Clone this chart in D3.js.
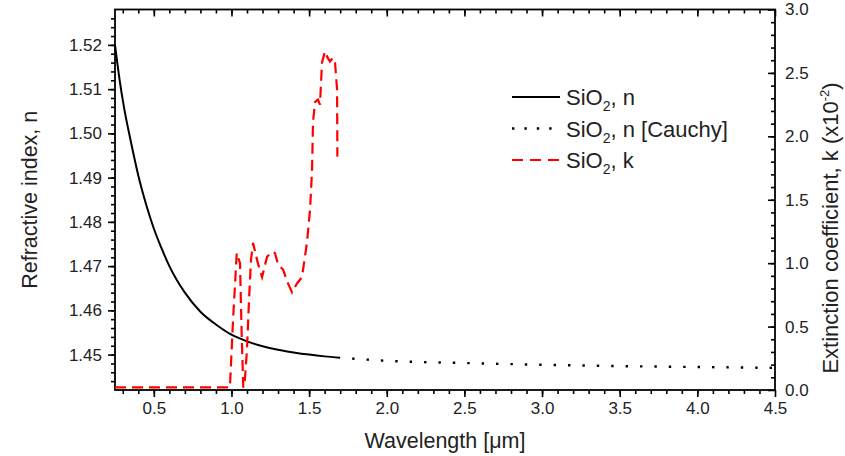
<!DOCTYPE html>
<html>
<head>
<meta charset="utf-8">
<script src="https://cdn.jsdelivr.net/npm/d3@7"></script>
<style>
  body { margin: 0; background: #fff; }
  svg { font-family: "Liberation Sans", Arial, sans-serif; }
  .axis path { stroke: #000; stroke-width: 1.6; }
  .axis line { stroke: #000; stroke-width: 1.6; }
  .axis text { font-size: 17px; fill: #222; }
</style>
</head>
<body>
<div id="chart"></div>
<script>
// refractive index n (solid, measured)
const nWave = [0.25, 0.28, 0.31, 0.35, 0.40, 0.45, 0.50, 0.55, 0.60, 0.70, 0.80, 0.90, 1.00, 1.10, 1.20, 1.30, 1.40, 1.50, 1.60, 1.70];
const nVals = [1.5200, 1.5120, 1.5055, 1.4985, 1.4905, 1.4840, 1.4785, 1.4740, 1.4700, 1.4640, 1.4597, 1.4568, 1.4545, 1.4530, 1.4519, 1.4511, 1.4505, 1.4500, 1.4496, 1.4493];

// Cauchy extension (dotted)
const cWave = [1.70, 2.00, 2.50, 3.00, 3.50, 4.00, 4.50];
const cVals = [1.4493, 1.4486, 1.4481, 1.4477, 1.4474, 1.4472, 1.4470];

// extinction coefficient k (x10^-2), dashed red
const kWave = [0.25, 0.60, 0.978, 0.99, 1.01, 1.034, 1.055, 1.065, 1.076, 1.084, 1.10, 1.113, 1.126, 1.139, 1.17, 1.197, 1.229, 1.261, 1.28, 1.30, 1.332, 1.364, 1.39, 1.422, 1.454, 1.486, 1.506, 1.519, 1.525, 1.538, 1.557, 1.57, 1.583, 1.602, 1.615, 1.634, 1.654, 1.667, 1.68, 1.682];
const kVals = [0.02, 0.02, 0.02, 0.02, 0.55, 1.08, 1.00, 0.47, 0.02, 0.04, 0.32, 0.71, 1.03, 1.16, 1.00, 0.89, 1.05, 1.09, 1.08, 0.99, 0.95, 0.84, 0.77, 0.84, 0.89, 1.16, 1.42, 1.74, 2.11, 2.27, 2.29, 2.25, 2.58, 2.67, 2.63, 2.59, 2.62, 2.58, 2.37, 1.84];

const xTicks = [0.5, 1.0, 1.5, 2.0, 2.5, 3.0, 3.5, 4.0, 4.5];
const nTicks = [1.45, 1.46, 1.47, 1.48, 1.49, 1.50, 1.51, 1.52];
const kTicks = [0.0, 0.5, 1.0, 1.5, 2.0, 2.5, 3.0];

const legendLabels = [["SiO", "2", ", n"], ["SiO", "2", ", n [Cauchy]"], ["SiO", "2", ", k"]];

const width = 845, height = 456;
const margin = { top: 9.5, right: 70, bottom: 66, left: 115 };
const x0 = margin.left, x1 = width - margin.right;
const y0 = margin.top, y1 = height - margin.bottom;

const xScale = d3.scaleLinear().domain([0.25, 4.5]).range([x0, x1]);
const yN = d3.scaleLinear().domain([1.442, 1.528]).range([y1, y0]);
const yK = d3.scaleLinear().domain([0, 3.0]).range([y1, y0]);

const svg = d3.select("#chart").append("svg")
    .attr("width", width)
    .attr("height", height);

function range(a, b, s) {
    const out = [];
    for (let v = a; v <= b + s / 2; v += s) out.push(+v.toFixed(4));
    return out;
}

// minor ticks
svg.append("g").attr("class", "axis").attr("transform", `translate(0,${y1})`)
    .call(d3.axisBottom(xScale).tickValues(range(0.3, 4.4, 0.1)).tickSize(4).tickFormat(""))
    .select(".domain").remove();
svg.append("g").attr("class", "axis").attr("transform", `translate(0,${y0})`)
    .call(d3.axisTop(xScale).tickValues(range(0.3, 4.4, 0.1)).tickSize(-4).tickFormat(""))
    .select(".domain").remove();
svg.append("g").attr("class", "axis").attr("transform", `translate(${x0},0)`)
    .call(d3.axisLeft(yN).tickValues(range(1.444, 1.526, 0.002)).tickSize(4).tickFormat(""))
    .select(".domain").remove();
svg.append("g").attr("class", "axis").attr("transform", `translate(${x1},0)`)
    .call(d3.axisRight(yK).tickValues(range(0.1, 2.9, 0.1)).tickSize(-4).tickFormat(""))
    .select(".domain").remove();

// major ticks
svg.append("g").attr("class", "axis").attr("transform", `translate(0,${y1})`)
    .call(d3.axisBottom(xScale).tickValues(xTicks).tickSize(7).tickPadding(5).tickFormat(d3.format(".1f")))
    .select(".domain").remove();
svg.append("g").attr("class", "axis").attr("transform", `translate(0,${y0})`)
    .call(d3.axisTop(xScale).tickValues(xTicks).tickSize(-7).tickFormat(""))
    .select(".domain").remove();
svg.append("g").attr("class", "axis").attr("transform", `translate(${x0},0)`)
    .call(d3.axisLeft(yN).tickValues(nTicks).tickSize(7).tickPadding(6).tickFormat(d3.format(".2f")))
    .select(".domain").remove();
svg.append("g").attr("class", "axis").attr("transform", `translate(${x1},0)`)
    .call(d3.axisRight(yK).tickValues(kTicks).tickSize(-7).tickPadding(10).tickFormat(d3.format(".1f")))
    .select(".domain").remove();

// frame
svg.append("rect")
    .attr("x", x0).attr("y", y0)
    .attr("width", x1 - x0).attr("height", y1 - y0)
    .attr("fill", "none").attr("stroke", "#000").attr("stroke-width", 1.8);

// curves
const lineN = d3.line().x(d => xScale(d[0])).y(d => yN(d[1])).curve(d3.curveMonotoneX);
const lineK = d3.line().x(d => xScale(d[0])).y(d => yK(d[1]));

svg.append("path")
    .datum(d3.zip(nWave, nVals))
    .attr("d", lineN)
    .attr("fill", "none").attr("stroke", "#000").attr("stroke-width", 2);

svg.append("path")
    .datum(d3.zip(cWave, cVals))
    .attr("d", lineN)
    .attr("fill", "none").attr("stroke", "#000").attr("stroke-width", 2.4)
    .attr("stroke-dasharray", "2.4,12").attr("stroke-dashoffset", -12);

svg.append("path")
    .datum(d3.zip(kWave, kVals))
    .attr("d", lineK)
    .attr("fill", "none").attr("stroke", "#ff0000").attr("stroke-width", 2.2)
    .attr("stroke-dasharray", "11,6");

// legend
const legendStyles = [
    { color: "#000", dash: null, w: 2 },
    { color: "#000", dash: "2.4,10", w: 2.4 },
    { color: "#ff0000", dash: "11,7", w: 2.2 }
];
const legend = svg.append("g").attr("transform", "translate(512,97)");
legendLabels.forEach((lab, i) => {
    const g = legend.append("g").attr("transform", `translate(0,${i * 31.5})`);
    g.append("line")
        .attr("x1", 0).attr("x2", 48).attr("y1", 0).attr("y2", 0)
        .attr("stroke", legendStyles[i].color)
        .attr("stroke-width", legendStyles[i].w)
        .attr("stroke-dasharray", legendStyles[i].dash);
    const t = g.append("text").attr("x", 54).attr("y", 8)
        .attr("font-size", 22).attr("fill", "#222");
    t.append("tspan").text(lab[0]);
    t.append("tspan").attr("font-size", 14).attr("dy", 6).text(lab[1]);
    t.append("tspan").attr("dy", -6).text(lab[2]);
});

// axis titles
svg.append("text")
    .attr("transform", `translate(37,${(y0 + y1) / 2}) rotate(-90)`)
    .attr("text-anchor", "middle")
    .attr("font-size", 21.5).attr("fill", "#222")
    .text("Refractive index, n");

const rt = svg.append("text")
    .attr("transform", `translate(838,228) rotate(-90)`)
    .attr("text-anchor", "middle")
    .attr("font-size", 22).attr("fill", "#222");
rt.append("tspan").text("Extinction coefficient, k (x10");
rt.append("tspan").attr("font-size", 13).attr("dy", -9).text("-2");
rt.append("tspan").attr("dy", 9).text(")");

svg.append("text")
    .attr("x", (x0 + x1) / 2).attr("y", 448)
    .attr("text-anchor", "middle")
    .attr("font-size", 21.5).attr("fill", "#222")
    .text("Wavelength [\u03bcm]");
</script>
</body>
</html>
